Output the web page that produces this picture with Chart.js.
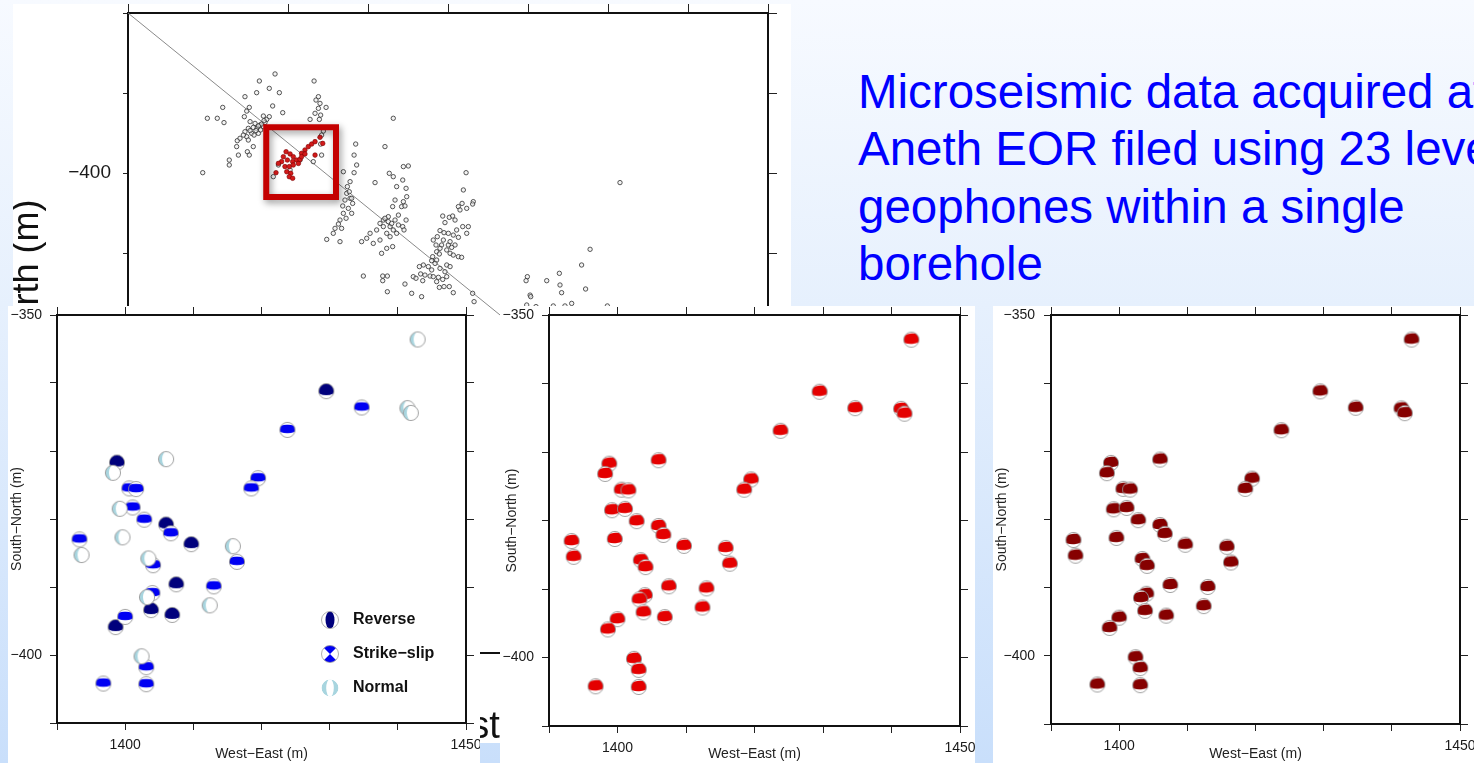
<!DOCTYPE html>
<html>
<head>
<meta charset="utf-8">
<title>Aneth microseismic events</title>
<script src="https://cdn.jsdelivr.net/npm/chart.js@4.4.1/dist/chart.umd.min.js"></script>
<style>
html, body { margin: 0; padding: 0; }
body {
    width: 1474px; height: 763px; overflow: hidden; position: relative;
    background: linear-gradient(to bottom, #f7faff 0%, #e6f0fd 40%, #c9dffb 100%);
    font-family: "Liberation Sans", Arial, sans-serif;
}
.sheet { position: absolute; background: #fff; }
.sheet canvas { display: block; }
#overview { left: 13px; top: 4px; width: 778px; height: 739px; z-index: 1; }
#overview-xtitle {
    position: absolute; left: 401px; top: 702px;
    font-size: 38px; line-height: 38px; color: #111; white-space: nowrap;
}
#note {
    position: absolute; left: 858px; top: 63px;
    font-size: 47.5px; line-height: 57.3px; color: #0000ff; white-space: nowrap;
}
#p1 { left: 8px;   top: 306px; width: 472px; height: 457px; z-index: 2; }
#p2 { left: 500px; top: 306px; width: 475px; height: 457px; z-index: 2; }
#p3 { left: 993px; top: 306px; width: 481px; height: 457px; z-index: 2; }
</style>
</head>
<body>

<div id="overview" class="sheet">
    <canvas id="overview-chart" width="778" height="739"></canvas>
    <div id="overview-xtitle">West&minus;East (m)</div>
</div>

<div id="note">Microseismic data acquired at<br>Aneth EOR filed using 23 level<br>geophones within a single<br>borehole</div>

<div id="p1" class="sheet"><canvas id="mech-chart" width="472" height="457"></canvas></div>
<div id="p2" class="sheet"><canvas id="red-chart" width="475" height="457"></canvas></div>
<div id="p3" class="sheet"><canvas id="dark-chart" width="481" height="457"></canvas></div>

<script>
// Overview map: all located events (m)
var mapEast = [
    1391.9, 1382.1, 1416.3, 1388.3, 1380.4, 1394.6, 1373.1, 1419.0, 1417.5, 1359.2,
    1375.8, 1390.4, 1419.0, 1423.8, 1374.2, 1396.7, 1349.6, 1355.8, 1372.7, 1384.6,
    1386.7, 1388.3, 1413.8, 1419.6, 1360.0, 1376.3, 1379.4, 1382.5, 1384.6, 1380.4,
    1375.2, 1373.1, 1377.3, 1374.2, 1381.5, 1375.2, 1368.3, 1367.9, 1378.3, 1374.6,
    1375.8, 1369.0, 1363.3, 1363.3, 1346.7, 1422.1, 1421.0, 1420.4, 1421.0, 1415.8,
    1407.5, 1394.0, 1390.8, 1401.3, 1442.3, 1441.3, 1442.9, 1441.3, 1434.6, 1438.8,
    1454.4, 1436.7, 1438.8, 1440.4, 1437.7, 1434.6, 1432.5, 1429.4, 1433.5, 1424.2,
    1432.5, 1439.8, 1465.8, 1460.6, 1463.3, 1465.8, 1467.9, 1466.9, 1465.4, 1462.7,
    1459.6, 1457.5, 1463.8, 1455.4, 1451.3, 1449.2, 1446.0, 1461.7, 1467.9, 1457.5,
    1461.7, 1458.5, 1465.4, 1447.1, 1459.2, 1462.1, 1459.2, 1462.1, 1453.3, 1469.0,
    1472.1, 1475.2, 1471.7, 1473.8, 1474.2, 1472.1, 1471.0, 1473.1, 1473.8, 1471.7,
    1472.5, 1511.3, 1509.6, 1515.8, 1515.4, 1508.8, 1506.5, 1496.7, 1500.8, 1502.9,
    1504.4, 1498.1, 1495.0, 1497.5, 1500.2, 1503.3, 1506.5, 1493.3, 1490.8, 1492.5,
    1496.0, 1500.2, 1502.3, 1492.9, 1490.4, 1494.6, 1501.3, 1503.3, 1506.5, 1508.5,
    1489.8, 1487.7, 1484.6, 1482.1, 1482.9, 1485.6, 1488.8, 1490.8, 1494.0, 1496.7,
    1484.2, 1478.3, 1480.0, 1497.5, 1494.6, 1500.8, 1503.3, 1473.1, 1477.3, 1483.5,
    1515.4, 1516.3, 1509.2, 1512.7, 1511.7, 1511.7, 1507.5, 1505.4, 1492.9, 1499.2,
    1501.3, 1607.5, 1588.8, 1583.5, 1586.0, 1569.6, 1571.0, 1570.0, 1561.7, 1549.6,
    1548.8, 1551.3, 1551.7, 1577.3, 1573.1, 1565.8, 1599.6, 1549.2, 1555.0, 1383.5,
    1385.6, 1381.5, 1378.3, 1382.9, 1380.0, 1385.0, 1376.3, 1378.8, 1372.1, 1370.0,
    1438.3, 1435.6, 1434.2, 1436.3, 1431.5, 1428.3, 1437.1, 1439.8, 1460.6, 1462.7,
    1464.8, 1466.9, 1459.6, 1465.8, 1469.0, 1463.8, 1491.9, 1495.0, 1498.1, 1489.8,
    1492.9, 1499.2, 1497.1, 1501.3, 1495.0, 1504.4, 1499.2, 1420.0, 1416.9, 1420.4
];
var mapNorth = [
    -338.1, -342.5, -342.5, -347.1, -349.8, -349.8, -352.3, -352.3, -354.4, -359.0,
    -359.0, -358.1, -359.6, -359.0, -361.3, -362.3, -365.8, -365.8, -364.8, -364.4,
    -366.5, -364.8, -366.5, -366.5, -368.5, -367.9, -369.0, -370.0, -371.0, -372.1,
    -372.1, -374.2, -375.2, -377.3, -375.2, -379.4, -379.8, -383.5, -383.5, -386.7,
    -388.8, -388.8, -391.9, -395.0, -399.8, -373.8, -376.3, -381.9, -388.8, -392.9,
    -391.9, -395.0, -402.3, -398.1, -381.9, -388.8, -395.0, -399.8, -399.2, -405.4,
    -406.0, -412.7, -415.8, -419.0, -422.1, -425.2, -429.4, -434.6, -434.6, -441.5,
    -442.9, -415.8, -365.8, -383.5, -400.2, -402.3, -408.5, -416.9, -421.0, -427.3,
    -429.4, -431.5, -433.5, -435.6, -437.7, -440.8, -442.9, -437.7, -437.7, -441.9,
    -447.1, -450.2, -446.0, -464.4, -464.4, -464.4, -467.3, -474.2, -444.0, -426.3,
    -396.0, -395.6, -404.4, -409.6, -414.8, -417.9, -421.0, -420.6, -429.4, -433.5,
    -435.6, -399.8, -410.6, -417.9, -419.4, -419.0, -421.0, -426.9, -427.7, -426.9,
    -429.4, -431.0, -436.0, -437.3, -437.7, -438.8, -440.2, -439.8, -441.9, -445.0,
    -445.0, -445.0, -446.5, -449.2, -452.3, -450.6, -450.2, -451.3, -452.3, -452.7,
    -454.8, -458.5, -457.5, -458.5, -463.1, -463.8, -464.4, -464.8, -465.2, -466.5,
    -467.3, -464.8, -465.8, -471.0, -471.5, -471.0, -474.8, -469.4, -475.2, -477.3,
    -475.2, -480.4, -433.5, -433.5, -437.7, -422.1, -423.1, -435.6, -454.4, -457.5,
    -458.5, -406.0, -447.7, -457.5, -472.5, -462.7, -474.8, -470.0, -467.3, -464.8,
    -467.3, -476.3, -477.3, -481.5, -483.1, -483.1, -483.1, -482.5, -483.5, -369.4,
    -368.5, -370.6, -371.5, -373.1, -373.5, -367.3, -373.5, -376.3, -376.3, -378.3,
    -411.7, -416.9, -420.6, -428.3, -431.9, -437.7, -408.5, -425.2, -428.3, -430.4,
    -431.5, -429.4, -433.5, -435.6, -432.5, -439.8, -456.5, -459.6, -461.7, -460.6,
    -467.9, -464.8, -441.9, -442.9, -447.1, -445.0, -448.1, -356.5, -362.7, -363.8
];

// events of the selected cluster (red on the map)
var clusterEast = [
    1398.8, 1401.3, 1397.1, 1403.3, 1399.6, 1396.0, 1402.9, 1405.4, 1408.5, 1410.6,
    1412.7, 1414.8, 1416.9, 1420.0, 1421.7, 1398.1, 1400.8, 1403.3, 1406.5, 1407.5,
    1399.2, 1401.7, 1400.8, 1402.9, 1394.0, 1392.5, 1416.9, 1408.5, 1410.6
];
var clusterNorth = [
    -386.7, -388.1, -389.8, -389.8, -391.9, -392.9, -392.9, -391.9, -387.7, -385.6,
    -383.5, -381.9, -380.4, -377.7, -381.5, -396.0, -396.0, -395.0, -394.0, -391.5,
    -399.2, -400.2, -402.3, -403.3, -394.0, -399.8, -388.8, -389.8, -388.1
];

// zoom window and fracture trend on the map
var boxEast = [1386.4, 1430.0, 1430.0, 1386.4, 1386.4];
var boxNorth = [-371.4, -371.4, -415.0, -415.0, -371.4];
var trendEast = [1300, 1700];
var trendNorth = [-300, -624.7];

// focal mechanisms of the cluster: R = reverse, S = strike-slip, N = normal
var eventEast = [
    1442.9, 1429.5, 1434.7, 1441.4, 1441.9, 1423.8, 1406.0, 1398.8, 1398.2, 1419.5,
    1418.5, 1400.6, 1401.6, 1399.2, 1401.1, 1402.8, 1406.0, 1406.7, 1399.6, 1393.3,
    1409.7, 1415.8, 1393.6, 1403.4, 1404.1, 1416.4, 1407.5, 1413.0, 1404.0, 1403.2,
    1412.4, 1403.8, 1406.9, 1400.0, 1398.6, 1402.4, 1403.1, 1396.8, 1403.1
];
var eventNorth = [
    -353.6, -361.2, -363.6, -363.7, -364.4, -366.9, -371.2, -371.7, -373.2, -374.0,
    -375.5, -375.5, -375.6, -378.5, -378.3, -380.1, -380.8, -382.1, -382.7, -383.0,
    -383.7, -384.0, -385.3, -385.8, -386.8, -386.3, -389.6, -389.9, -390.9, -391.5,
    -392.7, -393.4, -394.1, -394.4, -395.9, -400.2, -401.8, -404.2, -404.3
];
var eventType = [
    'N', 'R', 'S', 'N', 'N', 'S', 'N', 'R', 'N', 'S',
    'S', 'S', 'S', 'N', 'S', 'S', 'R', 'S', 'N', 'S',
    'R', 'N', 'N', 'N', 'S', 'S', 'R', 'S', 'S', 'N',
    'N', 'R', 'R', 'S', 'R', 'N', 'S', 'S', 'S'
];
var typeKeys = ['R', 'S', 'N'];
var typeNames = ['Reverse', 'Strike\u2212slip', 'Normal'];

var NAVY = '#00007c';
var BLUE = '#0000f2';
var PALE = '#a8d5df';

Chart.defaults.font.family = '"Liberation Sans", Arial, sans-serif';

function pairs(xs, ys) {
    return xs.map(function (x, i) { return { x: x, y: ys[i] }; });
}

function eventsOfType(key) {
    var out = [];
    eventType.forEach(function (k, i) {
        if (k === key) out.push({ x: eventEast[i], y: eventNorth[i] });
    });
    return out;
}

function minusLabel(v) {
    return v < 0 ? '\u2212' + Math.abs(v) : String(v);
}

// chart.js adds room for the outer tick labels; the frames here are fixed, so drop it
function clearPadding(s) {
    s.paddingLeft = 0; s.paddingRight = 0; s.paddingTop = 0; s.paddingBottom = 0;
}

// small beachball used as point style
function beachball(kind, color) {
    var c = document.createElement('canvas');
    c.width = 18; c.height = 18;
    var g = c.getContext('2d');
    var r = 7.6;
    g.translate(9, 9);
    g.beginPath(); g.arc(0, 0, r, 0, Math.PI * 2);
    g.fillStyle = '#fff'; g.fill();
    g.save();
    g.clip();
    g.fillStyle = color;
    g.beginPath();
    if (kind === 'R') {
        g.ellipse(0, -2.3, 9.8, 6.3, 0, 0, Math.PI * 2);
        g.fill();
    } else if (kind === 'S') {
        g.ellipse(0, -1, 9.8, 4.3, 0, 0, Math.PI * 2);
        g.fill();
    } else if (kind === 'N') {
        g.arc(0, 0, r, 0, Math.PI * 2);
        g.fill();
        g.beginPath();
        g.fillStyle = '#fff';
        g.ellipse(2, 0, 6, 9, 0, 0, Math.PI * 2);
        g.fill();
    } else { // plain band for the single colour panels
        g.ellipse(0.5, -1, 10.5, 5.2, -0.08, 0, Math.PI * 2);
        g.fill();
    }
    g.restore();
    g.beginPath(); g.arc(0, 0, r, 0, Math.PI * 2);
    g.strokeStyle = '#8c8c8c'; g.lineWidth = 0.8; g.stroke();
    return c;
}

// bigger symbols for the key
function keyIcon(kind) {
    var c = document.createElement('canvas');
    c.width = 20; c.height = 20;
    var g = c.getContext('2d');
    var r = 8.5;
    g.translate(10, 10);
    g.beginPath(); g.arc(0, 0, r, 0, Math.PI * 2);
    g.fillStyle = '#fff'; g.fill();
    g.save();
    g.clip();
    g.beginPath();
    if (kind === 'R') {
        g.fillStyle = NAVY;
        g.ellipse(0, 0, 4.5, 9, 0, 0, Math.PI * 2);
        g.fill();
    } else if (kind === 'S') {
        g.fillStyle = BLUE;
        g.moveTo(-10, -10); g.lineTo(10, -10); g.lineTo(0, 0); g.closePath();
        g.moveTo(-10, 10); g.lineTo(10, 10); g.lineTo(0, 0); g.closePath();
        g.fill();
    } else {
        g.fillStyle = PALE;
        g.arc(0, 0, r, 0, Math.PI * 2);
        g.fill();
        g.beginPath();
        g.fillStyle = '#fff';
        g.ellipse(0, 0, 3.8, 9, 0, 0, Math.PI * 2);
        g.fill();
    }
    g.restore();
    if (kind !== 'N') {
        g.beginPath(); g.arc(0, 0, r, 0, Math.PI * 2);
        g.strokeStyle = '#9a9a9a'; g.lineWidth = 0.8; g.stroke();
    }
    return c;
}

// GMT style frame: border on all four sides, ticks pointing outwards
function frameScale(axis, position, o) {
    var scale = {
        type: 'linear',
        axis: axis,
        position: position,
        min: o.min,
        max: o.max,
        ticks: {
            display: !!o.labels,
            stepSize: o.step,
            autoSkip: false,
            maxRotation: 0,
            padding: o.pad || 0,
            color: '#1a1a1a',
            font: { size: o.fontSize || 14 },
            callback: function (v) { return v % o.labels === 0 ? minusLabel(v) : ''; }
        },
        grid: { drawOnChartArea: false, tickLength: o.tick, color: '#222', lineWidth: 1 },
        border: { display: true, color: '#111', width: 2 },
        afterFit: function (s) {
            if (axis === 'x') s.height = o.size; else s.width = o.size;
            clearPadding(s);
        }
    };
    if (o.title) scale.title = o.title;
    return scale;
}

// --- overview map -------------------------------------------------------

var boxShadow = {
    id: 'boxShadow',
    beforeDatasetDraw: function (chart, args) {
        if (args.index !== 0) return;
        var ctx = chart.ctx;
        ctx.save();
        ctx.shadowColor = 'rgba(0,0,0,0.4)';
        ctx.shadowBlur = 7;
        ctx.shadowOffsetX = 2;
        ctx.shadowOffsetY = 3;
    },
    afterDatasetDraw: function (chart, args) {
        if (args.index === 0) chart.ctx.restore();
    }
};

new Chart(document.getElementById('overview-chart'), {
    type: 'scatter',
    data: {
        datasets: [
            {
                label: 'zoom window',
                data: pairs(boxEast, boxNorth),
                showLine: true,
                borderColor: '#c40000',
                borderWidth: 6,
                borderJoinStyle: 'miter',
                borderCapStyle: 'square',
                pointRadius: 0,
                tension: 0
            },
            {
                label: 'cluster',
                data: pairs(clusterEast, clusterNorth),
                pointRadius: 2.3,
                backgroundColor: '#d21a1a',
                borderColor: '#7a0000',
                borderWidth: 0.6
            },
            {
                label: 'events',
                data: pairs(mapEast, mapNorth),
                pointRadius: 2.2,
                backgroundColor: 'rgba(235,235,235,0.6)',
                borderColor: '#2e2e2e',
                borderWidth: 0.8
            },
            {
                label: 'trend',
                data: pairs(trendEast, trendNorth),
                showLine: true,
                borderColor: '#8a8a8a',
                borderWidth: 1,
                pointRadius: 0
            }
        ]
    },
    options: {
        responsive: false,
        animation: false,
        events: [],
        layout: { padding: { top: 9, right: 23, left: 0, bottom: 0 } },
        plugins: { legend: { display: false }, tooltip: { enabled: false } },
        scales: {
            x: frameScale('x', 'bottom', { min: 1300, max: 1700, step: 50, labels: 200, tick: 8, pad: 8, fontSize: 18, size: 90 }),
            xTop: frameScale('x', 'top', { min: 1300, max: 1700, step: 50, tick: 9, size: 0 }),
            y: frameScale('y', 'left', {
                min: -700, max: -300, step: 50, labels: 200, tick: 5, pad: 12, fontSize: 19, size: 115,
                title: { display: true, text: 'South\u2212North (m)', color: '#111', font: { size: 36, lineHeight: 0.85 }, padding: 0 }
            }),
            yRight: frameScale('y', 'right', { min: -700, max: -300, step: 50, tick: 9, size: 0 })
        }
    },
    plugins: [boxShadow]
});

// --- focal mechanism panels --------------------------------------------

var keyIcons = typeKeys.map(keyIcon);

var mechanismKey = {
    id: 'mechanismKey',
    afterDraw: function (chart) {
        var ctx = chart.ctx;
        var a = chart.chartArea;
        ctx.save();
        ctx.font = 'bold 16px "Liberation Sans", Arial, sans-serif';
        ctx.fillStyle = '#111';
        ctx.textBaseline = 'middle';
        typeNames.forEach(function (name, i) {
            var y = a.top + 305 + i * 34;
            var icon = keyIcons[i];
            ctx.drawImage(icon, a.left + 273 - icon.width / 2, y - icon.height / 2);
            ctx.fillText(name, a.left + 296, y);
        });
        ctx.restore();
    }
};

function panel(canvasId, geo, datasets, extra) {
    var titleFont = { size: 14, lineHeight: 1 };
    return new Chart(document.getElementById(canvasId), {
        type: 'scatter',
        data: { datasets: datasets },
        options: {
            responsive: false,
            animation: false,
            events: [],
            layout: { padding: { top: 9, right: geo.right, left: 0, bottom: 0 } },
            plugins: { legend: { display: false }, tooltip: { enabled: false } },
            scales: {
                x: frameScale('x', 'bottom', {
                    min: 1390, max: 1450, step: 10, labels: 50, tick: 7, pad: 7, size: geo.xHeight,
                    title: { display: true, text: 'West\u2212East (m)', color: '#222', font: titleFont, padding: { top: 0, bottom: 2 } }
                }),
                xTop: frameScale('x', 'top', { min: 1390, max: 1450, step: 10, tick: 8, size: 0 }),
                y: frameScale('y', 'left', {
                    min: -410, max: -350, step: 10, labels: 50, tick: 7, pad: geo.yPad, size: geo.yWidth,
                    title: { display: true, text: 'South\u2212North (m)', color: '#222', font: titleFont, padding: { top: geo.titlePad, bottom: 0 } }
                }),
                yRight: frameScale('y', 'right', { min: -410, max: -350, step: 10, tick: 8, size: 0 })
            }
        },
        plugins: extra || []
    });
}

var mechColors = { R: NAVY, S: BLUE, N: PALE };

panel('mech-chart', { right: 14, yWidth: 49, xHeight: 40, yPad: 8, titlePad: 2 },
    typeKeys.map(function (key, i) {
        return {
            label: typeNames[i],
            data: eventsOfType(key),
            pointStyle: beachball(key, mechColors[key])
        };
    }).reverse(),
    [mechanismKey]);

panel('red-chart', { right: 15, yWidth: 49, xHeight: 37, yPad: 8, titlePad: 5 }, [{
    label: 'events',
    data: pairs(eventEast, eventNorth),
    pointStyle: beachball('band', '#e40000')
}]);

panel('dark-chart', { right: 14, yWidth: 58, xHeight: 39, yPad: 9, titlePad: 2 }, [{
    label: 'events',
    data: pairs(eventEast, eventNorth),
    pointStyle: beachball('band', '#860000')
}]);
</script>
</body>
</html>
